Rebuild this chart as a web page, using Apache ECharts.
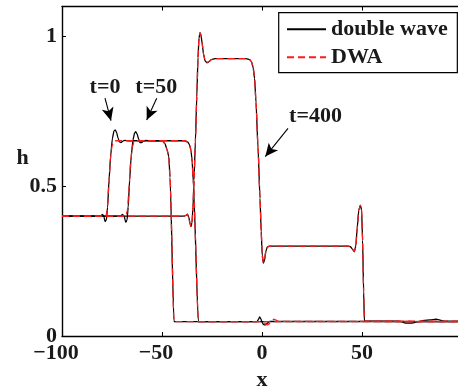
<!DOCTYPE html>
<html>
<head>
<meta charset="utf-8">
<script src="https://cdn.jsdelivr.net/npm/echarts@6/dist/echarts.min.js"></script>
<style>
  html, body { margin: 0; padding: 0; background: #fff; }
  #chart { width: 458px; height: 388px; }
</style>
</head>
<body>
<div id="chart"></div>
<script>
// Water depth profiles h(x) at three times: full double-wave model vs. DWA
const xTicks = [-100, -50, 0, 50, 100];
const xLabels = [-100, -50, 0, 50];
const hTicks = [0, 0.5, 1];

// t = 0
const waveT0 = [
  [-100, 0.4], [-82, 0.4], [-80.5, 0.402], [-79.7, 0.406], [-79, 0.398], [-78.5, 0.382],
  [-77.8, 0.388], [-77.2, 0.43], [-76.5, 0.52], [-75.7, 0.6], [-74.8, 0.66], [-74, 0.685],
  [-73.4, 0.688], [-72.7, 0.68], [-72, 0.662], [-71.3, 0.648], [-70.5, 0.646], [-69.5, 0.651],
  [-68.5, 0.653], [-67, 0.652], [-51, 0.652], [-49.5, 0.649], [-48.5, 0.642], [-47.6, 0.625],
  [-46.6, 0.6], [-46, 0.53], [-44, 0.048], [100, 0.048]
];
const dwaT0 = [
  [-100, 0.4], [-78, 0.4], [-77.4, 0.42], [-76.6, 0.5], [-75.8, 0.59], [-75, 0.635],
  [-74.2, 0.649], [-73.4, 0.652], [-51, 0.652], [-49.5, 0.649], [-48.5, 0.642], [-47.6, 0.625],
  [-46.6, 0.6], [-46, 0.53], [-44, 0.048], [100, 0.048]
];

// t = 50
const waveT50 = [
  [-100, 0.4], [-72, 0.4], [-70.5, 0.402], [-69.7, 0.406], [-68.8, 0.398], [-68.2, 0.38],
  [-67.5, 0.386], [-66.9, 0.43], [-66.2, 0.52], [-65.4, 0.6], [-64.5, 0.655], [-63.7, 0.678],
  [-63.1, 0.682], [-62.4, 0.674], [-61.7, 0.658], [-61, 0.646], [-60.2, 0.646], [-59.2, 0.651],
  [-58, 0.653], [-56, 0.652], [-38.5, 0.652], [-37.2, 0.648], [-36.3, 0.64], [-35.5, 0.62],
  [-34.9, 0.58], [-34.4, 0.52], [-31.8, 0.048], [-2.5, 0.048], [-1.8, 0.055], [-1.2, 0.064],
  [-0.6, 0.058], [0, 0.046], [0.8, 0.038], [1.8, 0.037], [2.8, 0.043], [3.8, 0.049], [100, 0.048]
];
const dwaT50 = [
  [-100, 0.4], [-68, 0.4], [-67.3, 0.42], [-66.5, 0.49], [-65.7, 0.58], [-64.9, 0.63],
  [-64, 0.648], [-63, 0.652], [-38.5, 0.652], [-37.2, 0.648], [-36.3, 0.64], [-35.5, 0.62],
  [-34.9, 0.58], [-34.4, 0.52], [-31.8, 0.048], [-1, 0.048], [0.3, 0.046], [1.5, 0.041],
  [2.6, 0.037], [3.6, 0.04], [4.8, 0.049], [6, 0.056], [6.8, 0.054], [8, 0.049], [100, 0.048]
];

// t = 400
const waveT400 = [
  [-100, 0.4], [-39, 0.4], [-38, 0.403], [-37.3, 0.407], [-36.6, 0.397], [-36, 0.375],
  [-35.5, 0.365], [-35, 0.378], [-34.5, 0.43], [-34, 0.52], [-33.3, 0.65], [-32.6, 0.8],
  [-32, 0.93], [-31.5, 0.995], [-31, 1.013], [-30.5, 1.005], [-29.9, 0.975], [-29.2, 0.94],
  [-28.4, 0.918], [-27.5, 0.912], [-26.5, 0.916], [-25.3, 0.923], [-23.5, 0.926], [-8, 0.926],
  [-6.2, 0.923], [-5.2, 0.915], [-4.4, 0.895], [-3.7, 0.86], [-3, 0.78], [-2, 0.63],
  [-1, 0.46], [-0.4, 0.35], [0.1, 0.27], [0.7, 0.243], [1.3, 0.255], [1.9, 0.282],
  [2.6, 0.297], [3.6, 0.3], [43, 0.3], [44.2, 0.298], [45.2, 0.29], [46.2, 0.281],
  [46.9, 0.3], [47.6, 0.36], [48.4, 0.42], [49.2, 0.437], [49.8, 0.42], [50.3, 0.32],
  [50.8, 0.15], [51.2, 0.05], [68, 0.05], [70, 0.047], [72, 0.043], [75, 0.043],
  [78, 0.048], [81, 0.052], [84, 0.054], [87, 0.056], [89, 0.053], [91, 0.05], [100, 0.05]
];
const dwaT400 = [
  [-100, 0.4], [-39, 0.4], [-38, 0.403], [-37.3, 0.406], [-36.6, 0.397], [-36, 0.376],
  [-35.5, 0.366], [-35, 0.378], [-34.5, 0.43], [-34, 0.52], [-33.3, 0.65], [-32.6, 0.8],
  [-32, 0.93], [-31.5, 0.995], [-31, 1.012], [-30.5, 1.004], [-29.9, 0.975], [-29.2, 0.94],
  [-28.4, 0.918], [-27.5, 0.913], [-26.5, 0.917], [-25.3, 0.923], [-23.5, 0.926], [-8, 0.926],
  [-6.2, 0.923], [-5.2, 0.915], [-4.4, 0.895], [-3.7, 0.86], [-3, 0.78], [-2, 0.63],
  [-1, 0.46], [-0.4, 0.35], [0.1, 0.27], [0.7, 0.244], [1.3, 0.256], [1.9, 0.283],
  [2.6, 0.297], [3.6, 0.3], [43, 0.3], [44.2, 0.298], [45.2, 0.29], [46.2, 0.282],
  [46.9, 0.3], [47.6, 0.36], [48.4, 0.42], [49.2, 0.436], [49.8, 0.42], [50.3, 0.32],
  [50.8, 0.15], [51.2, 0.05], [100, 0.05]
];

// Time annotations: text anchor and arrow (tail -> head) in data coordinates
const timeLabels = ['t=0', 't=50', 't=400'];
const labelAt = [[-78.5, 0.831], [-52.85, 0.831], [26.75, 0.735]];
const arrowFrom = [[-78.5, 0.794], [-52.65, 0.794], [13, 0.6935]];
const arrowTo = [[-75.5, 0.719], [-57.65, 0.721], [1.65, 0.599]];

const FONT = "'Liberation Serif', 'Times New Roman', serif";
const INK = '#1a1a1a';
const WAVE_COLOR = '#000';
const DWA_COLOR = '#ff1a1a';

const chart = echarts.init(document.getElementById('chart'), null, { renderer: 'canvas' });

function waveSeries(data) {
  return {
    name: 'double wave', type: 'line', data: data, symbol: 'none', smooth: 0.2,
    smoothMonotone: 'x', silent: true, z: 2,
    itemStyle: { color: WAVE_COLOR },
    lineStyle: { color: WAVE_COLOR, width: 1.3, type: 'solid' }
  };
}
function dwaSeries(data) {
  return {
    name: 'DWA', type: 'line', data: data, symbol: 'none', smooth: 0.2,
    smoothMonotone: 'x', silent: true, z: 3,
    itemStyle: { color: DWA_COLOR },
    lineStyle: { color: DWA_COLOR, width: 1.3, type: [7, 4] }
  };
}

const arrowSeries = {
  name: 'arrows', type: 'line', data: [], symbol: 'none', silent: true, z: 4,
  markLine: {
    silent: true, animation: false,
    symbol: ['none', 'arrow'], symbolSize: [9, 13],
    label: { show: false },
    lineStyle: { color: '#000', width: 1.1, type: 'solid' },
    emphasis: { disabled: true },
    data: arrowFrom.map((p, i) => [{ coord: p }, { coord: arrowTo[i] }])
  }
};

const tickLabelStyle = {
  fontFamily: FONT, fontWeight: 'bold', fontSize: 22, color: INK
};

chart.setOption({
  animation: false,
  backgroundColor: '#fff',
  grid: { left: 62, top: 6.55, right: -4, bottom: 52, containLabel: false, outerBoundsMode: 'none' },
  legend: {
    data: ['double wave', 'DWA'],
    orient: 'vertical',
    left: 278.7, top: 12.7,
    padding: [5.6, 9.6, 4.4, 7.3],
    itemGap: 6, itemWidth: 39, itemHeight: 14,
    selectedMode: false,
    itemStyle: { opacity: 0 },
    backgroundColor: '#fff',
    borderColor: '#000', borderWidth: 1.2, borderRadius: 0,
    textStyle: { fontFamily: FONT, fontWeight: 'bold', fontSize: 22, color: INK, lineHeight: 22 }
  },
  xAxis: [
    {
      type: 'value', position: 'bottom', min: xTicks[0], max: xTicks[xTicks.length - 1], interval: 50,
      axisLine: { show: true, onZero: false, lineStyle: { color: '#000', width: 1.4 } },
      axisTick: { show: true, inside: true, length: 4, lineStyle: { color: '#000', width: 1 } },
      splitLine: { show: false },
      axisLabel: {
        ...tickLabelStyle, margin: 6, customValues: xLabels,
        formatter: v => v < 0 ? '{n|\u2212' + Math.abs(v) + '}' : String(v),
        rich: { n: { ...tickLabelStyle, padding: [0, 12, 0, 0] } }
      },
      name: 'x', nameLocation: 'middle', nameGap: 28,
      nameTextStyle: { ...tickLabelStyle }
    },
    {
      type: 'value', position: 'top', min: xTicks[0], max: xTicks[xTicks.length - 1], interval: 50,
      axisLine: { show: true, onZero: false, lineStyle: { color: '#000', width: 1.4 } },
      axisTick: { show: true, inside: true, length: 4, lineStyle: { color: '#000', width: 1 } },
      axisLabel: { show: false }, splitLine: { show: false }
    }
  ],
  yAxis: [
    {
      type: 'value', position: 'left', min: 0, max: 1.1,
      axisLine: { show: true, onZero: false, lineStyle: { color: '#000', width: 1.4 } },
      axisTick: { show: true, inside: true, length: 4, customValues: hTicks, lineStyle: { color: '#000', width: 1 } },
      axisLabel: { ...tickLabelStyle, margin: 5, customValues: hTicks, formatter: v => String(v) },
      splitLine: { show: false }
    }
  ],
  series: [
    waveSeries(waveT0), waveSeries(waveT50), waveSeries(waveT400),
    dwaSeries(dwaT0), dwaSeries(dwaT50), dwaSeries(dwaT400),
    arrowSeries
  ]
});

// Time labels and y-axis title as text placed through the chart's own scales
const toPx = p => chart.convertToPixel({ seriesIndex: 0 }, p);
const graphics = timeLabels.map((t, i) => {
  const pt = toPx(labelAt[i]);
  return {
    type: 'text', x: pt[0], y: pt[1], silent: true, z: 10,
    style: { text: t, ...tickLabelStyle, fill: INK, align: 'center', verticalAlign: 'middle' }
  };
});
graphics.push({
  type: 'text', x: 22.5, y: 158, silent: true, z: 10,
  style: { text: 'h', ...tickLabelStyle, fill: INK, align: 'center', verticalAlign: 'middle' }
});
chart.setOption({ graphic: graphics });
</script>
</body>
</html>
